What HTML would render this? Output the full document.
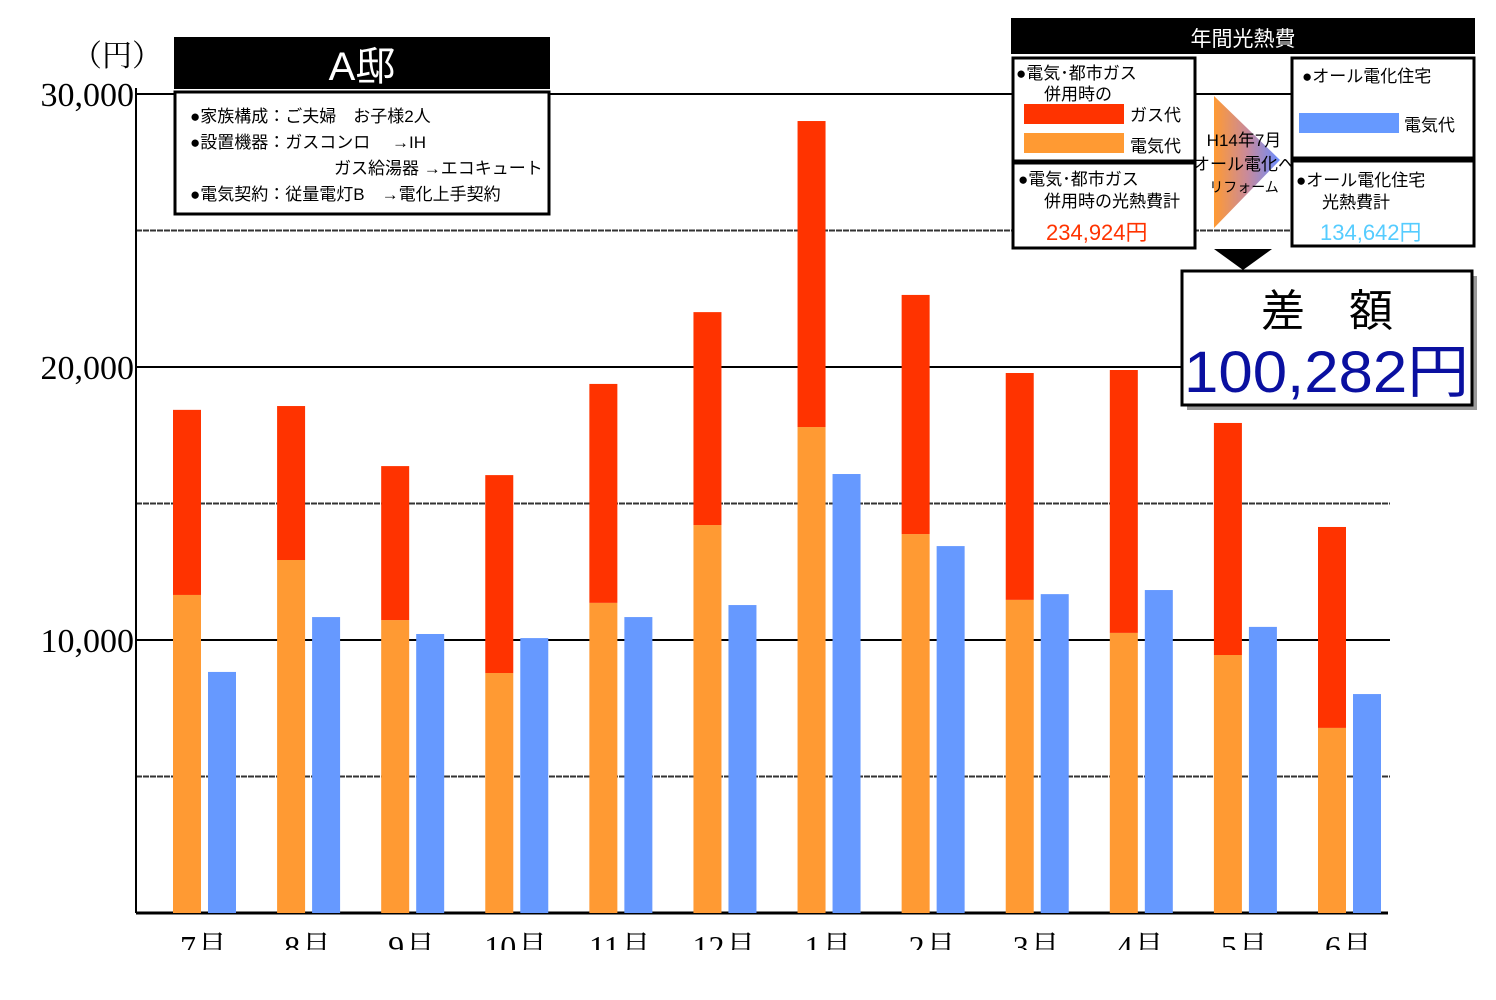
<!DOCTYPE html>
<html><head><meta charset="utf-8"><style>
html,body{margin:0;padding:0;background:#fff;}
svg{display:block;font-family:"Liberation Sans","Noto Sans CJK JP",sans-serif;}
</style></head><body>
<svg id="chart" width="1496" height="1000" viewBox="0 0 1496 1000">
<defs>
<linearGradient id="tri" x1="0" y1="0" x2="1" y2="0">
<stop offset="0" stop-color="#ff9a33"/><stop offset="0.5" stop-color="#c98a9a"/><stop offset="1" stop-color="#6a8cff"/>
</linearGradient>
</defs>
<g id="grid"></g>
<g id="yaxis"></g>
<g id="bars"></g>
<g id="xlabels"></g>
<rect x="0" y="950" width="1496" height="50" fill="#fff"/>
<text x="72" y="66" font-size="30" font-family="Liberation Serif,Noto Serif CJK SC,serif">（円）</text>

<g>
<rect x="174" y="37" width="376" height="52" fill="#000"/>
<text x="362" y="80" font-size="40" fill="#fff" text-anchor="middle">A邸</text>
<rect x="175" y="92" width="374" height="122" fill="#fff" stroke="#000" stroke-width="3"/>
<text font-size="17">
<tspan x="190" y="122">●家族構成：ご夫婦　お子様2人</tspan>
<tspan x="190" y="148">●設置機器：ガスコンロ　 →IH</tspan>
<tspan x="334" y="174">ガス給湯器 →エコキュート</tspan>
<tspan x="190" y="200">●電気契約：従量電灯B　→電化上手契約</tspan>
</text>
</g>

<g>
<rect x="1011" y="18" width="464" height="36" fill="#000"/>
<text x="1243" y="46" font-size="21" fill="#fff" text-anchor="middle">年間光熱費</text>
<rect x="1013" y="58" width="182" height="103" fill="#fff" stroke="#000" stroke-width="3"/>
<text x="1016" y="79" font-size="17">●電気･都市ガス</text>
<text x="1044" y="100" font-size="17">併用時の</text>
<rect x="1024" y="104" width="100" height="20" fill="#ff3300"/>
<text x="1130" y="121" font-size="17">ガス代</text>
<rect x="1024" y="133" width="100" height="20" fill="#ff9a33"/>
<text x="1130" y="152" font-size="17">電気代</text>
<rect x="1013" y="163" width="182" height="85" fill="#fff" stroke="#000" stroke-width="3"/>
<text x="1018" y="185" font-size="17">●電気･都市ガス</text>
<text x="1044" y="207" font-size="17">併用時の光熱費計</text>
<text x="1046" y="240" font-size="22" fill="#ff3300">234,924円</text>
<polygon points="1214,96 1214,228 1280,160" fill="url(#tri)"/>
<text x="1244" y="146" font-size="17" text-anchor="middle">H14年7月</text>
<text x="1244" y="170" font-size="17" text-anchor="middle">オール電化へ</text>
<text x="1244" y="192" font-size="14" text-anchor="middle">リフォーム</text>
<rect x="1292" y="58" width="182" height="100" fill="#fff" stroke="#000" stroke-width="3"/>
<text x="1302" y="82" font-size="17">●オール電化住宅</text>
<rect x="1299" y="113" width="100" height="20" fill="#6699ff"/>
<text x="1404" y="131" font-size="17">電気代</text>
<rect x="1292" y="161" width="182" height="85" fill="#fff" stroke="#000" stroke-width="3"/>
<text x="1296" y="186" font-size="17">●オール電化住宅</text>
<text x="1322" y="208" font-size="17">光熱費計</text>
<text x="1320" y="240" font-size="22" fill="#55ccff">134,642円</text>
<polygon points="1214,249 1272,249 1243,270" fill="#000"/>
<rect x="1187" y="276" width="290" height="134" fill="#999"/>
<rect x="1182" y="271" width="290" height="134" fill="#fff" stroke="#000" stroke-width="3"/>
<text x="1327" y="326" font-size="44" text-anchor="middle">差　額</text>
<text x="1184" y="392" font-size="58" fill="#0a10a0" textLength="285" lengthAdjust="spacingAndGlyphs">100,282円</text>
</g>
</svg>
<script>
const months = ["7月","8月","9月","10月","11月","12月","1月","2月","3月","4月","5月","6月"];
const elecBefore = [11650,12930,10730,8790,11360,14210,17800,13880,11470,10260,9450,6780];
const gasBefore = [6780,5640,5640,7250,8020,7800,11210,8760,8310,9630,8500,7360];
const elecAfter = [8830,10840,10220,10070,10840,11280,16080,13440,11680,11830,10480,8020];
const yTicks = [10000,20000,30000];
const yTickLabels = ["10,000","20,000","30,000"];
const dashedTicks = [5000,15000,25000];

const NS="http://www.w3.org/2000/svg";
const y = v => 913 - v*819/30000;
const x = i => 173 + i*(1318-173)/(months.length-1);
function mk(tag, parent, attrs){const e=document.createElementNS(NS,tag);for(const k in attrs)e.setAttribute(k,attrs[k]);parent.appendChild(e);return e;}
const grid=document.getElementById('grid'), yax=document.getElementById('yaxis'), bars=document.getElementById('bars'), xl=document.getElementById('xlabels');
dashedTicks.forEach(v=>{
  const l=mk('line',grid,{x1:136,x2:1390,y1:y(v),y2:y(v),stroke:'#333','stroke-width':2,'stroke-dasharray':'6 1'});
  
  
});
yTicks.forEach((v,i)=>{
  const l=mk('line',grid,{x1:136,x2:1390,y1:y(v),y2:y(v),stroke:'#000','stroke-width':2});
  
  
  const t=mk('text',yax,{x:134,y:y(v)+12,'font-size':34,'text-anchor':'end','font-family':'Liberation Serif,serif'});
  t.textContent=yTickLabels[i];
  
  
});
const ax=mk('line',yax,{x1:136,x2:136,y1:y(30000)-6,y2:y(0),stroke:'#000','stroke-width':2});


const xa=mk('line',yax,{x1:136,x2:1388,y1:y(0),y2:y(0),stroke:'#000','stroke-width':3});


months.forEach((m,i)=>{
  const bx=x(i), w=28;
  const e=mk('rect',bars,{x:bx,y:y(elecBefore[i]),width:w,height:y(0)-y(elecBefore[i]),fill:'#ff9a33'});
  
  
  const tot=elecBefore[i]+gasBefore[i];
  const g=mk('rect',bars,{x:bx,y:y(tot),width:w,height:y(elecBefore[i])-y(tot),fill:'#ff3300'});
  
  
  const a=mk('rect',bars,{x:bx+35,y:y(elecAfter[i]),width:w,height:y(0)-y(elecAfter[i]),fill:'#6699ff'});
  
  
  const t=mk('text',xl,{x:bx+31,y:958,'font-size':32,'text-anchor':'middle','font-family':'Liberation Serif,Noto Serif CJK SC,serif'});
  t.textContent=m;
  
  
});
</script>
</body></html>
